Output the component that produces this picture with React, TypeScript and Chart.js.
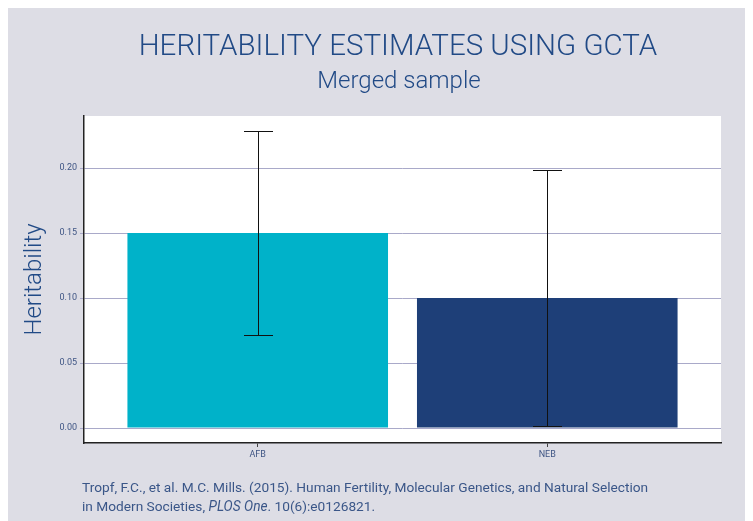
import React, { useEffect, useRef } from "react";
import { Chart, registerables } from "chart.js";

Chart.register(...registerables);

const categories = ["AFB", "NEB"];
const heritability = [0.15, 0.1];
const errLower = [0.0713, 0.0018];
const errUpper = [0.2285, 0.1985];
const barColors = ["#00b2c9", "#1e3f78"];
const yTicks = [0, 0.05, 0.1, 0.15, 0.2];

const chartTitle = "HERITABILITY ESTIMATES USING GCTA";
const chartSubtitle = "Merged sample";

const TEXT_BLUE = "#214a86";
const TICK_BLUE = "#3f5584";

const plotBg = {
  id: "plotBg",
  beforeDraw(chart: any) {
    const { ctx, chartArea } = chart;
    ctx.save();
    ctx.fillStyle = "#ffffff";
    ctx.fillRect(chartArea.left, chartArea.top, chartArea.right - chartArea.left, chartArea.bottom - chartArea.top);
    ctx.restore();
  },
};

const errorBars = {
  id: "errorBars",
  afterDatasetsDraw(chart: any) {
    const { ctx, scales } = chart;
    const xs = scales.x;
    const ys = scales.y;
    ctx.save();
    ctx.strokeStyle = "#111111";
    ctx.lineWidth = 1;
    categories.forEach((_, i) => {
      const x = Math.round(xs.getPixelForValue(i)) + 0.5;
      const yl = Math.round(ys.getPixelForValue(errLower[i])) + 0.5;
      const yh = Math.round(ys.getPixelForValue(errUpper[i])) + 0.5;
      const half = 14.5;
      ctx.beginPath();
      ctx.moveTo(x, yl);
      ctx.lineTo(x, yh);
      ctx.moveTo(x - half, yl);
      ctx.lineTo(x + half, yl);
      ctx.moveTo(x - half, yh);
      ctx.lineTo(x + half, yh);
      ctx.stroke();
    });
    ctx.restore();
  },
};

export default function App() {
  const ref = useRef<HTMLCanvasElement>(null);
  useEffect(() => {
    if (!ref.current) return;
    const chart = new Chart(ref.current, {
      type: "bar",
      data: {
        datasets: [
          {
            data: categories.map((_, i) => ({ x: i, y: heritability[i] })),
            backgroundColor: barColors,
            borderWidth: 0,
            barPercentage: 1,
            categoryPercentage: 0.9,
          },
        ],
      },
      options: {
        animation: false,
        responsive: false,
        maintainAspectRatio: false,
        layout: { padding: { left: 0, right: 32, top: 108, bottom: 58 } },
        plugins: {
          legend: { display: false },
          tooltip: { enabled: false },
          title: { display: false },
        },
        scales: {
          x: {
            type: "linear",
            min: -0.6,
            max: 1.6,
            offset: false,
            afterBuildTicks: (scale: any) => {
              scale.ticks = categories.map((_, i) => ({ value: i }));
            },
            afterFit: (scale: any) => {
              scale.height = 20;
            },
            ticks: {
              callback: (v: any) => categories[Math.round(Number(v))] ?? "",
              color: TICK_BLUE,
              font: { family: "Roboto", size: 9 },
              padding: 2,
              maxRotation: 0,
            },
            grid: {
              display: true,
              offset: false,
              drawOnChartArea: false,
              drawTicks: true,
              tickLength: 4,
              color: "#444444",
            },
            border: { display: true, color: "#222222", width: 1.5 },
          },
          y: {
            min: -0.0115,
            max: 0.24,
            afterBuildTicks: (scale: any) => {
              scale.ticks = yTicks.map((v) => ({ value: v }));
            },
            afterFit: (scale: any) => {
              scale.width = 76;
            },
            ticks: {
              callback: (v: any) => Number(v).toFixed(2),
              color: TICK_BLUE,
              font: { family: "Roboto", size: 9 },
              padding: 3,
            },
            grid: {
              color: "#a9a9c9",
              lineWidth: 1,
              tickLength: 4,
            },
            border: { display: true, color: "#222222", width: 1.5 },
            title: {
              display: true,
              text: "Heritability",
              color: TEXT_BLUE,
              font: { family: "Roboto", size: 24, weight: "300" },
              padding: { top: 12.6, bottom: 0 },
            },
          },
        },
      },
      plugins: [plotBg, errorBars],
    } as any);
    return () => chart.destroy();
  }, []);

  return (
    <div
      style={{
        position: "relative",
        width: 745,
        height: 513,
        background: "#dddde5",
        overflow: "hidden",
      }}
    >
      <canvas ref={ref} width={745} height={513} style={{ display: "block" }} />
      <div
        style={{
          position: "absolute",
          left: -10,
          width: 800,
          top: 19,
          textAlign: "center",
          fontFamily: "Roboto",
          fontWeight: 300,
          fontSize: 29.5,
          lineHeight: "36px",
          color: TEXT_BLUE,
          whiteSpace: "nowrap",
        }}
      >
        {chartTitle}
      </div>
      <div
        style={{
          position: "absolute",
          left: -9,
          width: 800,
          top: 57,
          textAlign: "center",
          fontFamily: "Roboto",
          fontWeight: 300,
          fontSize: 24,
          lineHeight: "30px",
          color: TEXT_BLUE,
          whiteSpace: "nowrap",
        }}
      >
        {chartSubtitle}
      </div>
      <div
        style={{
          position: "absolute",
          left: 74,
          top: 470,
          fontFamily: "Roboto",
          fontSize: 13.7,
          lineHeight: "19px",
          color: "#3a5688",
          whiteSpace: "nowrap",
        }}
      >
        Tropf, F.C., et al. M.C. Mills. (2015). Human Fertility, Molecular Genetics, and Natural Selection
        <br />
        in Modern Societies, <i>PLOS One</i>. 10(6):e0126821.
      </div>
    </div>
  );
}
